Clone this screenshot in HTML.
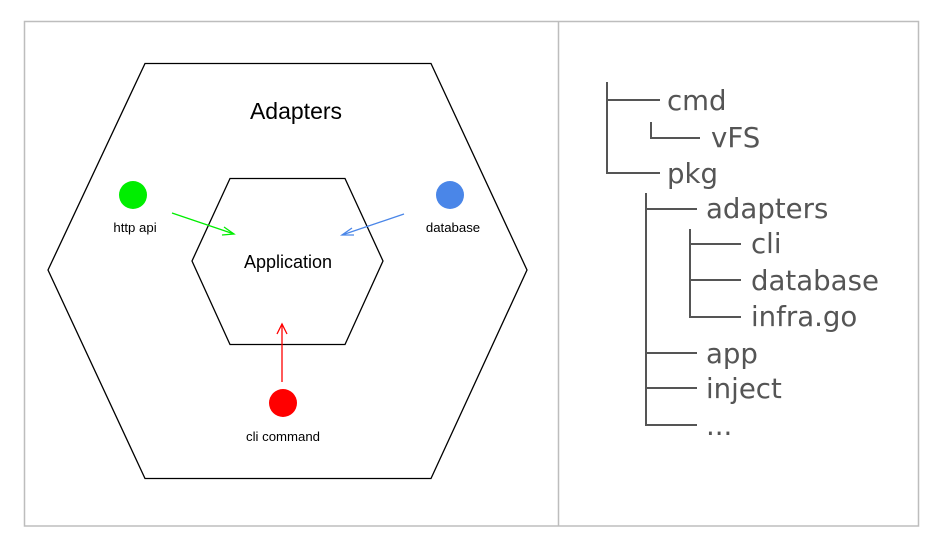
<!DOCTYPE html>
<html><head><meta charset="utf-8"><style>
html,body{margin:0;padding:0;background:#fff;width:939px;height:550px;overflow:hidden}
svg{display:block}
</style></head><body>
<svg width="939" height="550" viewBox="0 0 939 550" xmlns="http://www.w3.org/2000/svg">
<rect x="24.5" y="21.5" width="894" height="504.5" fill="none" stroke="#bdbdbd" stroke-width="1.5"/>
<line x1="558.5" y1="21" x2="558.5" y2="526" stroke="#bdbdbd" stroke-width="1.5"/>
<polygon points="145,63.5 431,63.5 527,270 431,478.5 145,478.5 48,270" fill="none" stroke="#000" stroke-width="1.3"/>
<polygon points="230,178.5 345,178.5 383,261 345,344.5 230,344.5 192,261" fill="none" stroke="#000" stroke-width="1.3"/>
<text x="296" y="119" font-family="Liberation Sans, sans-serif" font-size="23" text-anchor="middle" fill="#000">Adapters</text>
<text x="288" y="268" font-family="Liberation Sans, sans-serif" font-size="18" text-anchor="middle" fill="#000">Application</text>
<circle cx="133" cy="195" r="14" fill="#00ee00"/>
<circle cx="450" cy="195" r="14" fill="#4a86e8"/>
<circle cx="283" cy="403" r="14" fill="#ff0000"/>
<text x="135" y="232" font-family="Liberation Sans, sans-serif" font-size="13.2" text-anchor="middle">http api</text>
<text x="453" y="232" font-family="Liberation Sans, sans-serif" font-size="13.2" text-anchor="middle">database</text>
<text x="283" y="441" font-family="Liberation Sans, sans-serif" font-size="13.2" text-anchor="middle">cli command</text>
<g stroke-width="1.3" fill="none">
<line x1="172" y1="213" x2="234" y2="234" stroke="#00ee00"/>
<polyline points="224,227 234,234 222,235" stroke="#00ee00"/>
<line x1="404" y1="214" x2="342" y2="235" stroke="#4a86e8"/>
<polyline points="352,228 342,235 354,235" stroke="#4a86e8"/>
<line x1="282" y1="382" x2="282" y2="324" stroke="#ff0000"/>
<polyline points="277,334 282,324 287,334" stroke="#ff0000"/>
</g>
<g stroke="#555" stroke-width="2" fill="none">
<polyline points="607,82 607,173 660,173"/>
<line x1="607" y1="100" x2="660" y2="100"/>
<polyline points="651,122 651,138 700,138"/>
<polyline points="646,193 646,425 697,425"/>
<line x1="646" y1="209" x2="697" y2="209"/>
<line x1="646" y1="353" x2="697" y2="353"/>
<line x1="646" y1="388" x2="697" y2="388"/>
<polyline points="690,229 690,317 741,317"/>
<line x1="690" y1="244" x2="741" y2="244"/>
<line x1="690" y1="280" x2="741" y2="280"/>
</g>
<g font-family="DejaVu Sans, sans-serif" font-size="27.6" fill="#555">
<text x="667" y="110">cmd</text>
<text x="711" y="147">vFS</text>
<text x="667" y="183">pkg</text>
<text x="706" y="218">adapters</text>
<text x="751" y="253">cli</text>
<text x="751" y="290">database</text>
<text x="751" y="326">infra.go</text>
<text x="706" y="363">app</text>
<text x="706" y="398">inject</text>
<text x="706" y="435">...</text>
</g>
</svg>
</body></html>
